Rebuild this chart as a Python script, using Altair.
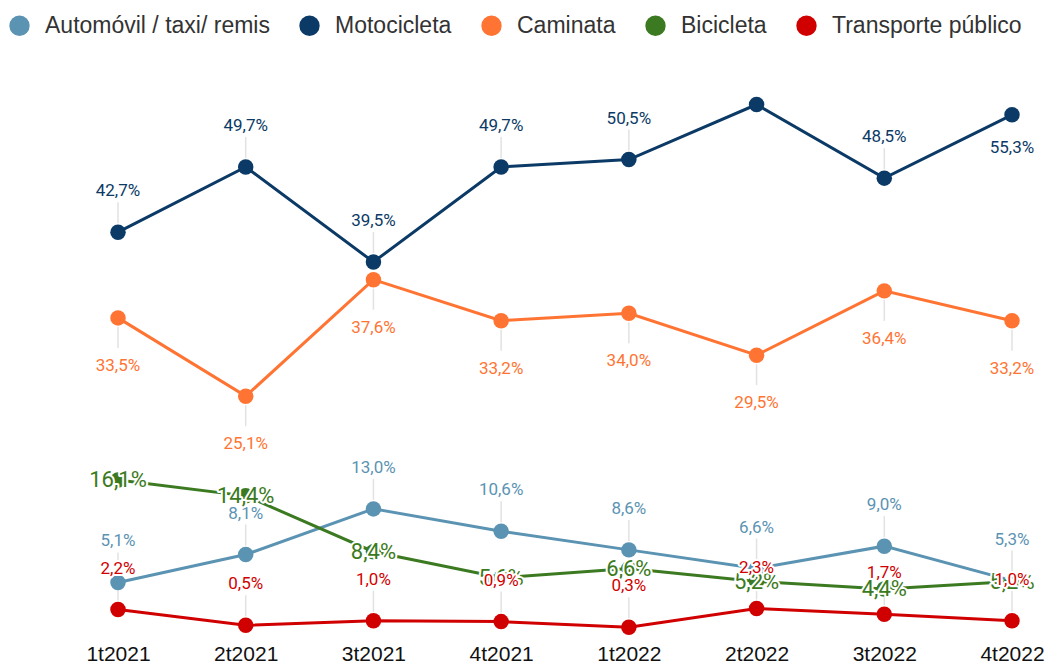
import altair as alt
import pandas as pd

quarters = ["1t2021", "2t2021", "3t2021", "4t2021", "1t2022", "2t2022", "3t2022", "4t2022"]
series_names = ["Automóvil / taxi/ remis", "Motocicleta", "Caminata", "Bicicleta", "Transporte público"]
auto = [5.1, 8.1, 13.0, 10.6, 8.6, 6.6, 9.0, 5.3]
moto = [42.7, 49.7, 39.5, 49.7, 50.5, 56.4, 48.5, 55.3]
caminata = [33.5, 25.1, 37.6, 33.2, 34.0, 29.5, 36.4, 33.2]
bici = [16.1, 14.4, 8.4, 5.6, 6.6, 5.2, 4.4, 5.2]
transporte = [2.2, 0.5, 1.0, 0.9, 0.3, 2.3, 1.7, 1.0]
colors = ["#5b93b3", "#0b3a66", "#ff7433", "#3b7a20", "#d10000"]

values = [auto, moto, caminata, bici, transporte]
default_place = {"Automóvil / taxi/ remis": "above", "Motocicleta": "above",
                 "Caminata": "below", "Bicicleta": "center", "Transporte público": "above"}
special = {("Motocicleta", "4t2022"): "below_near", ("Motocicleta", "2t2022"): "none"}

rows = []
for name, vals in zip(series_names, values):
    for q, v in zip(quarters, vals):
        place = special.get((name, q), default_place[name])
        rows.append({"quarter": q, "series": name, "value": v,
                     "label": f"{v:.1f}".replace(".", ",") + "%", "place": place})
df = pd.DataFrame(rows)

FONT = "Roboto"
SANS = "Liberation Sans, Arial, sans-serif"
xenc = alt.X("quarter:N", sort=quarters, scale=alt.Scale(type="point", padding=0),
             axis=alt.Axis(title=None, labelAngle=0, domain=False, ticks=False, grid=False,
                           labelFontSize=21, labelColor="#111111", labelFont=SANS, labelPadding=13))
yenc = alt.Y("value:Q", scale=alt.Scale(domain=[0, 60], nice=False, zero=True), axis=None)
cscale = alt.Scale(domain=series_names, range=colors)

base = alt.Chart(df)

conn_above = base.transform_filter("datum.place == 'above'").mark_rule(
    color="#e2e2e2", strokeWidth=1.5, yOffset=-9, y2Offset=-30
).encode(x=xenc, y=yenc, y2="value:Q")
conn_below = base.transform_filter("datum.place == 'below'").mark_rule(
    color="#e2e2e2", strokeWidth=1.5, yOffset=9, y2Offset=30
).encode(x=xenc, y=yenc, y2="value:Q")

lines = base.mark_line(strokeWidth=3).encode(
    x=xenc, y=yenc, color=alt.Color("series:N", scale=cscale, legend=None), detail="series:N")

points = base.mark_circle(size=240, opacity=1).encode(
    x=xenc, y=yenc,
    color=alt.Color("series:N", scale=cscale, title=None,
                    legend=alt.Legend(orient="none", legendX=-110, legendY=-57, direction="horizontal",
                                      columns=5, symbolType="circle", symbolSize=415,
                                      symbolStrokeWidth=0, labelFont=SANS, labelFontSize=23,
                                      labelColor="#333333", labelOffset=14, columnPadding=28,
                                      labelLimit=400, title=None)))


def text_layers(filter_expr, dy, size):
    sub = base.transform_filter(filter_expr)
    halo = sub.mark_text(dy=dy, fontSize=size, font=FONT, fill="white", stroke="white",
                         strokeWidth=4, strokeJoin="round", baseline="middle", align="center").encode(
        x=xenc, y=yenc, text="label:N")
    txt = sub.mark_text(dy=dy, fontSize=size, font=FONT, baseline="middle", align="center").encode(
        x=xenc, y=yenc, text="label:N",
        color=alt.Color("series:N", scale=cscale, legend=None))
    return [halo, txt]


layers = [conn_above, conn_below, lines, points]
layers += text_layers("datum.place == 'above' && datum.series != 'Transporte público'", -41, 17)
layers += text_layers("datum.place == 'below'", 48, 17)
layers += text_layers("datum.place == 'below_near'", 33, 17)
layers += text_layers("datum.place == 'center'", 0, 22)
layers += text_layers("datum.series == 'Transporte público'", -41, 17)

chart = alt.layer(*layers).resolve_scale(color="independent").properties(
    width=894, height=559,
    autosize=alt.AutoSizeParams(type="none"),
    padding={"left": 110, "top": 63, "right": 33, "bottom": 37},
).configure_view(strokeWidth=0, stroke=None)

chart.save("out.html", embed_options={"renderer": "svg", "actions": False})
